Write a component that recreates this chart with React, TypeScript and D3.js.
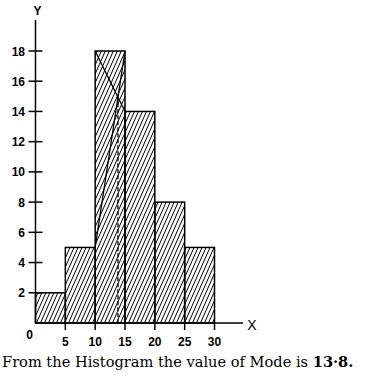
import React from "react";
import * as d3 from "d3";

const classStarts = [0, 5, 10, 15, 20, 25];
const classWidth = 5;
const frequencies = [2, 5, 18, 14, 8, 5];
const yTicks = [2, 4, 6, 8, 10, 12, 14, 16, 18];
const xTicks = [5, 10, 15, 20, 25, 30];
const modalIndex = 2;
const caption = "From the Histogram the value of Mode is ";
const captionValue = "13·8.";

export default function App() {
  const W = 365, H = 382;
  const x = d3.scaleLinear().domain([0, 30]).range([35.5, 214.5]);
  const y = d3.scaleLinear().domain([0, 18]).range([323, 51]);

  const L = classStarts[modalIndex];
  const U = L + classWidth;
  const fm = frequencies[modalIndex];
  const f0 = frequencies[modalIndex - 1];
  const f2 = frequencies[modalIndex + 1];
  const mode = L + ((fm - f0) / (2 * fm - f0 - f2)) * classWidth;
  const modeY = fm - ((mode - L) / classWidth) * (fm - f2);

  const sans = "'Liberation Sans', Arial, sans-serif";
  return (
    <svg width={W} height={H} style={{ position: "absolute", left: 0, top: 0, background: "#fff" }}>
      <defs>
        <pattern id="hatch" patternUnits="userSpaceOnUse" width={4} height={9}>
          <line x1={0} y1={9} x2={4} y2={0} stroke="#000" strokeWidth={1} />
          <line x1={-4} y1={9} x2={0} y2={0} stroke="#000" strokeWidth={1} />
          <line x1={4} y1={9} x2={8} y2={0} stroke="#000" strokeWidth={1} />
        </pattern>
      </defs>
      <rect width={W} height={H} fill="#fff" />
      {classStarts.map((s, i) => (
        <rect
          key={i}
          x={x(s)}
          y={y(frequencies[i])}
          width={x(s + classWidth) - x(s)}
          height={y(0) - y(frequencies[i])}
          fill="url(#hatch)"
          stroke="#000"
          strokeWidth={1.5}
        />
      ))}
      {/* mode construction lines */}
      <line x1={x(L)} y1={y(fm)} x2={x(U)} y2={y(f2)} stroke="#000" strokeWidth={1.3} />
      <line x1={x(U)} y1={y(fm)} x2={x(L)} y2={y(f0)} stroke="#000" strokeWidth={1.3} />
      <line x1={x(mode)} y1={y(modeY)} x2={x(mode)} y2={y(0)} stroke="#000" strokeWidth={1.3} strokeDasharray="4,2" />
      {/* axes */}
      <line x1={x(0)} y1={y(0)} x2={x(0)} y2={20} stroke="#000" strokeWidth={1.5} />
      <line x1={x(0)} y1={y(0)} x2={243} y2={y(0)} stroke="#000" strokeWidth={1.5} />
      {yTicks.map((t) => (
        <g key={t}>
          <line x1={x(0) - 7} x2={x(0) + 7} y1={y(t)} y2={y(t)} stroke="#000" strokeWidth={1.5} />
          <text x={25} y={y(t) + 4.5} textAnchor="end" fontFamily={sans} fontWeight="bold" fontSize={12}>{t}</text>
        </g>
      ))}
      {xTicks.map((t) => (
        <g key={t}>
          <line x1={x(t)} x2={x(t)} y1={y(0)} y2={y(0) + 7} stroke="#000" strokeWidth={1.5} />
          <text x={x(t)} y={345.5} textAnchor="middle" fontFamily={sans} fontWeight="bold" fontSize={12}>{t}</text>
        </g>
      ))}
      <text x={29.5} y={338.5} textAnchor="middle" fontFamily={sans} fontWeight="bold" fontSize={12}>0</text>
      <text x={37.5} y={14.5} textAnchor="middle" fontFamily={sans} fontWeight="bold" fontSize={12}>Y</text>
      <text x={252} y={329.5} textAnchor="middle" fontFamily={sans} fontSize={14}>X</text>
      <text x={2} y={367} fontFamily="'DejaVu Serif', serif" fontSize={14.6}>
        {caption}
        <tspan fontWeight="bold">{captionValue}</tspan>
      </text>
    </svg>
  );
}
